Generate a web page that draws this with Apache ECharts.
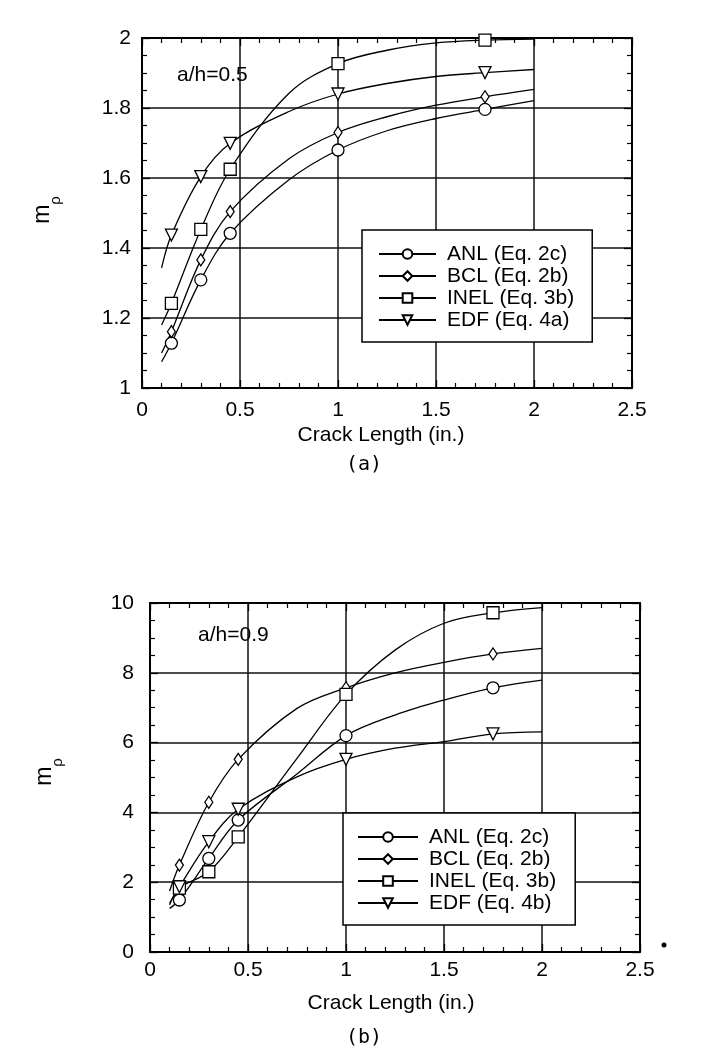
<!DOCTYPE html>
<html><head><meta charset="utf-8">
<script src="https://cdn.jsdelivr.net/npm/echarts@6/dist/echarts.min.js"></script>
<style>html,body{margin:0;padding:0;background:#fff}#c{width:717px;height:1060px}</style>
</head><body><div id="c"></div>
<script>
// ---- data ----
const crackLength = [0.1, 0.15, 0.3, 0.45, 0.75, 1.0, 1.25, 1.5, 1.75, 2.0];
const markerCrack = [0.15, 0.3, 0.45, 1.0, 1.75];
const seriesNamesA = ['ANL (Eq. 2c)', 'BCL (Eq. 2b)', 'INEL (Eq. 3b)', 'EDF (Eq. 4a)'];
const seriesNamesB = ['ANL (Eq. 2c)', 'BCL (Eq. 2b)', 'INEL (Eq. 3b)', 'EDF (Eq. 4b)'];
// plot (a) a/h = 0.5
const anlA  = [1.075, 1.128, 1.309, 1.442, 1.595, 1.680, 1.735, 1.770, 1.796, 1.821];
const bclA  = [1.100, 1.161, 1.366, 1.504, 1.655, 1.730, 1.775, 1.808, 1.832, 1.853];
const inelA = [1.180, 1.242, 1.453, 1.625, 1.842, 1.927, 1.965, 1.986, 1.994, 1.997];
const edfA  = [1.343, 1.437, 1.604, 1.699, 1.790, 1.840, 1.870, 1.890, 1.901, 1.910];
// plot (b) a/h = 0.9
const anlB  = [1.25, 1.49, 2.68, 3.78, 5.10, 6.20, 6.79, 7.22, 7.57, 7.79];
const bclB  = [1.75, 2.49, 4.29, 5.52, 6.98, 7.57, 8.00, 8.30, 8.54, 8.70];
const inelB = [1.35, 1.83, 2.30, 3.30, 5.55, 7.38, 8.65, 9.42, 9.72, 9.87];
const edfB  = [1.40, 1.87, 3.16, 4.09, 5.02, 5.52, 5.84, 6.03, 6.25, 6.31];
// axes
const xRange = [0, 2.5], xStep = 0.5;
const yRangeA = [1, 2], yStepA = 0.2;
const yRangeB = [0, 10], yStepB = 2;
const xTitle = 'Crack Length (in.)';
const noteA = 'a/h=0.5', noteB = 'a/h=0.9';
const captionA = '(a)', captionB = '(b)';

// ---- styles ----
const FONT = '"Liberation Sans", Arial, Helvetica, sans-serif';
const symbols = [
  {symbol: 'circle', size: 12, rotate: 0},
  {symbol: 'diamond', size: [8, 12], rotate: 0},
  {symbol: 'rect', size: 12, rotate: 0},
  {symbol: 'triangle', size: 12, rotate: 180}
];

function makeSeries(name, ys, sym, xi, yi) {
  return {
    type: 'line', name: name, xAxisIndex: xi, yAxisIndex: yi,
    smooth: 0.35,
    symbol: sym.symbol, symbolSize: sym.size, symbolRotate: sym.rotate,
    showSymbol: true, showAllSymbol: true, z: 3,
    lineStyle: {color: '#000', width: 1.3},
    itemStyle: {color: '#fff', borderColor: '#000', borderWidth: 1.3},
    emphasis: {disabled: true},
    data: crackLength.map((x, i) => markerCrack.includes(x)
      ? [x, ys[i]] : {value: [x, ys[i]], symbol: 'none'})
  };
}

function xAx(grid, pos, labelMargin) {
  const main = pos === 'bottom';
  return {
    type: 'value', gridIndex: grid, position: pos, min: xRange[0], max: xRange[1], interval: xStep,
    axisLine: {show: true, onZero: false, lineStyle: {color: '#000', width: 2}},
    axisTick: {show: true, inside: true, length: 8, lineStyle: {color: '#000', width: 1.3}},
    minorTick: {show: true, splitNumber: 5, length: 5, lineStyle: {color: '#000', width: 1.2}},
    axisLabel: {show: main, color: '#000', fontSize: 21, fontFamily: FONT, margin: labelMargin},
    splitLine: {show: main, lineStyle: {color: '#111', width: 1.5}},
    minorSplitLine: {show: false}
  };
}
function yAx(grid, pos, range, step, labelMargin) {
  const main = pos === 'left';
  return {
    type: 'value', gridIndex: grid, position: pos, min: range[0], max: range[1], interval: step,
    axisLine: {show: true, onZero: false, lineStyle: {color: '#000', width: 2}},
    axisTick: {show: true, inside: true, length: 8, lineStyle: {color: '#000', width: 1.3}},
    minorTick: {show: true, splitNumber: 4, length: 5, lineStyle: {color: '#000', width: 1.2}},
    axisLabel: {show: main, color: '#000', fontSize: 21, fontFamily: FONT, margin: labelMargin},
    splitLine: {show: main, lineStyle: {color: '#111', width: 1.5}},
    minorSplitLine: {show: false}
  };
}
function legend(names, left, top, padding, itemWidth) {
  return {
    data: names, orient: 'vertical', left: left, top: top, padding: padding,
    itemWidth: itemWidth, itemHeight: 12, itemGap: 0,
    backgroundColor: '#fff', borderColor: '#000', borderWidth: 1.5,
    selectedMode: false, inactiveColor: '#000',
    textStyle: {color: '#000', fontSize: 21, fontFamily: FONT, lineHeight: 22, padding: [0, 0, 0, 6]}
  };
}
function mrho(x, y) {
  return {
    type: 'text', x: x, y: y, rotation: Math.PI / 2,
    style: {
      text: '{m|m}{p|ρ}', align: 'center', verticalAlign: 'middle', fill: '#000',
      rich: {
        m: {fontSize: 23, fontFamily: FONT, lineHeight: 23, verticalAlign: 'top', fill: '#000'},
        p: {fontSize: 15, fontFamily: FONT, lineHeight: 15, verticalAlign: 'top', padding: [17, 0, 0, 0], fill: '#000'}
      }
    }
  };
}
function txt(text, x, y, size, align, family) {
  return {type: 'text', x: x, y: y, style: {text: text, fontSize: size, fontFamily: family || FONT,
    fill: '#000', align: align, verticalAlign: 'middle'}};
}

const ysA = [anlA, bclA, inelA, edfA];
const ysB = [anlB, bclB, inelB, edfB];
const series = [];
ysA.forEach((ys, k) => series.push(makeSeries(seriesNamesA[k], ys, symbols[k], 0, 0)));
ysB.forEach((ys, k) => series.push(makeSeries(seriesNamesB[k], ys, symbols[k], 2, 2)));

const option = {
  animation: false,
  backgroundColor: '#fff',
  grid: [
    {left: 142, top: 38, width: 490, height: 350, show: false, containLabel: false, outerBoundsMode: 'none'},
    {left: 150, top: 603, width: 490, height: 349, show: false, containLabel: false, outerBoundsMode: 'none'}
  ],
  xAxis: [xAx(0, 'bottom', 12), xAx(0, 'top', 8), xAx(1, 'bottom', 8), xAx(1, 'top', 8)],
  yAxis: [yAx(0, 'left', yRangeA, yStepA, 11), yAx(0, 'right', yRangeA, yStepA, 8),
          yAx(1, 'left', yRangeB, yStepB, 16), yAx(1, 'right', yRangeB, yStepB, 8)],
  legend: [
    legend(seriesNamesA, 362, 230, [13, 18, 11, 16], 57),
    legend(seriesNamesB, 343, 813, [13, 19, 11, 14], 60)
  ],
  series: series,
  graphic: [
    txt(noteA, 177, 75, 21, 'left'),
    txt(noteB, 198, 635, 21, 'left'),
    mrho(43, 210),
    mrho(45, 772),
    txt(xTitle, 381, 435, 21, 'center'),
    txt(xTitle, 391, 1003, 21, 'center'),
    txt(captionA, 364, 465, 20, 'center', '"DejaVu Sans Mono", monospace'),
    txt(captionB, 364, 1038, 20, 'center', '"DejaVu Sans Mono", monospace'),
    {type: 'circle', shape: {cx: 664, cy: 945, r: 2.5}, style: {fill: '#000'}}
  ]
};
const chart = echarts.init(document.getElementById('c'), null, {renderer: 'canvas'});
chart.setOption(option);
</script>
</body></html>
